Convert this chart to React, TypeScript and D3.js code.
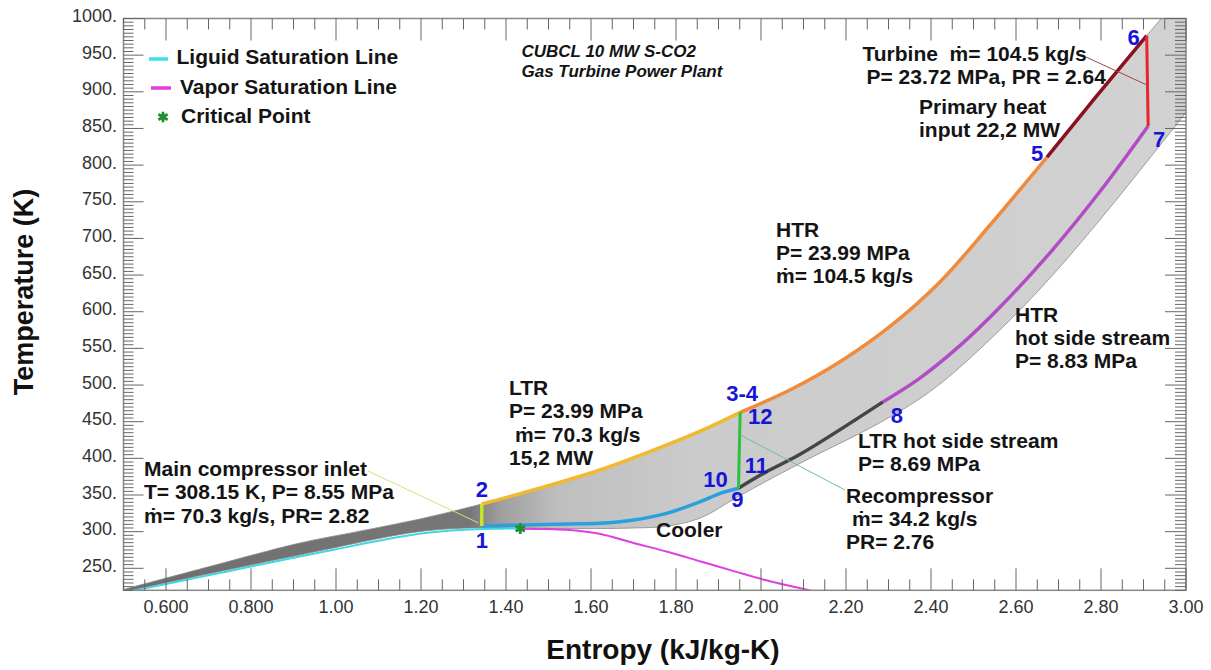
import React from "react";
import * as d3 from "d3";

type Pt = [number, number]; // [entropy kJ/kg-K, temperature K]

// axis ticks
const xTickValues = [0.6, 0.8, 1.0, 1.2, 1.4, 1.6, 1.8, 2.0, 2.2, 2.4, 2.6, 2.8, 3.0];
const xTickLabels = ["0.600", "0.800", "1.00", "1.20", "1.40", "1.60", "1.80", "2.00", "2.20", "2.40", "2.60", "2.80", "3.00"];
const yTickValues = [250, 300, 350, 400, 450, 500, 550, 600, 650, 700, 750, 800, 850, 900, 950, 1000];
const yTickLabels = yTickValues.map((v) => `${v}.`);

// saturation dome
const liquidSat: Pt[] = [
  [0.5, 216.6], [0.6, 228.5], [0.7, 240.5], [0.8, 252.5], [0.9, 264.5], [1.0, 276],
  [1.1, 287.5], [1.2, 297.5], [1.3, 302.6], [1.38, 304.0], [1.4336, 304.13],
];
const vaporSat: Pt[] = [
  [1.4336, 304.13], [1.5, 303.5], [1.55, 302.3], [1.62, 297], [1.7, 284.5], [1.78, 272.5],
  [1.86, 259], [1.94, 245.5], [2.01, 234], [2.11, 220.4], [2.2, 208],
];
const criticalPoint: Pt = [1.4336, 304.13];

// envelope of the isobar fan (grey lines)
const highIsobarLiquid: Pt[] = [
  [0.48, 218], [0.522, 224.5], [0.7, 252], [0.915, 284.5], [1.05, 300], [1.198, 317.3], [1.343, 337.7],
];
const highIsobarAbove: Pt[] = [[2.96, 1013], [3.0, 1045]];
const lowIsobar: Pt[] = [
  [0.5, 217.7], [0.915, 268.2], [1.198, 300.2], [1.343, 305.3], [1.433, 304.6], [1.574, 304.2],
  [1.699, 305], [1.778, 307.5], [1.857, 318.6], [1.946, 347.7], [2.092, 393.3], [2.287, 451],
  [2.409, 496], [2.562, 575], [2.68, 646], [2.797, 725], [2.892, 793], [3.0, 872], [3.104, 950],
];

// cycle processes
const mainCompressor: Pt[] = [[1.343, 307.7], [1.343, 337.7]];
const ltrCold: Pt[] = [[1.343, 337.7], [1.464, 356.8], [1.621, 384.1], [1.778, 418.2], [1.857, 437], [1.951, 462.8]];
const htrCold: Pt[] = [[1.951, 462.8], [2.068, 493.2], [2.185, 531.4], [2.302, 579.2], [2.421, 640.6], [2.539, 718.3], [2.673, 811]];
const heater: Pt[] = [[2.673, 811], [2.788, 893], [2.9075, 976.5]];
const turbine: Pt[] = [[2.9075, 976.5], [2.911, 853.4]];
const htrHot: Pt[] = [[2.911, 853.4], [2.798, 764.3], [2.68, 680.4], [2.562, 606.1], [2.468, 553.7], [2.374, 509.5], [2.287, 477]];
const ltrHot: Pt[] = [[2.287, 477], [2.092, 405.5], [2.013, 381.8], [1.947, 359.2]];
const cooler: Pt[] = [[1.947, 359.2], [1.904, 352.3], [1.857, 340.9], [1.778, 325], [1.7, 315.9], [1.621, 311.4], [1.543, 310.5], [1.343, 307.7]];
const recompressor: Pt[] = [[1.947, 359.2], [1.951, 462.8]];

const stateLabels = ["1", "2", "3-4", "5", "6", "7", "8", "9", "10", "11", "12"];
const statePoints: Pt[] = [
  [1.343, 307.7], [1.343, 337.7], [1.951, 462.8], [2.673, 811], [2.9075, 976.5], [2.911, 853.4],
  [2.287, 477], [1.947, 359.2], [1.947, 359.2], [1.947, 359.2], [1.951, 462.8],
];
// label offsets in px (layout only)
const stateOffsets: Pt[] = [
  [0, 22], [0, -7], [2, -11], [-10, 4], [-13, 9], [11, 21], [14, 21], [-1, 19], [-23, -1], [18, -15], [20, 12],
];

const FONT = "'Liberation Sans', Arial, sans-serif";
const BLUE = "#1515d6";

const textBlocks: { x: number; y: number; lines: string[]; dx?: number[] }[] = [
  { x: 144, y: 476, lines: ["Main compressor inlet", "T= 308.15 K, P= 8.55 MPa", "ṁ= 70.3 kg/s, PR= 2.82"] },
  { x: 509, y: 395, lines: ["LTR", "P= 23.99 MPa", "ṁ= 70.3 kg/s", "15,2 MW"], dx: [0, 0, 6, 0] },
  { x: 776, y: 236.5, lines: ["HTR", "P= 23.99 MPa", "ṁ= 104.5 kg/s"] },
  { x: 1015, y: 321.5, lines: ["HTR", "hot side stream", "P= 8.83 MPa"] },
  { x: 858, y: 447.5, lines: ["LTR hot side stream", "P= 8.69 MPa"] },
  { x: 846, y: 502.5, lines: ["Recompressor", "ṁ= 34.2 kg/s", "PR= 2.76"], dx: [0, 6, 0] },
  { x: 656, y: 536.5, lines: ["Cooler"] },
  { x: 862.5, y: 60.5, lines: ["Turbine\u00a0 ṁ= 104.5 kg/s", "P= 23.72 MPa, PR = 2.64"], dx: [0, 4] },
  { x: 919, y: 114, lines: ["Primary heat", "input 22,2 MW"] },
];

export default function App() {
  const left = 123.5, right = 1186, top = 18.5, bottom = 590.3;
  const x = d3.scaleLinear().domain([0.5, 3.0]).range([left, right]);
  const y = d3.scaleLinear().domain([220, 1000]).range([bottom, top]);

  const smooth = d3.line<Pt>().x((d) => x(d[0])).y((d) => y(d[1])).curve(d3.curveCatmullRom.alpha(0.5));
  const straight = d3.line<Pt>().x((d) => x(d[0])).y((d) => y(d[1]));

  const highEnv = [...highIsobarLiquid, ...ltrCold.slice(1), ...htrCold.slice(1), ...heater.slice(1), ...highIsobarAbove];
  const fanPath = smooth(highEnv)! + smooth([...lowIsobar].reverse())!.replace(/^M/, "L") + "Z";

  const minorX = d3.range(0.5, 3.0001, 0.05).filter((v) => Math.abs(v * 5 - Math.round(v * 5)) > 1e-6);
  const minorY = d3.range(220, 1000.1, 5).filter((v) => v % 50 !== 0);
  const asterisk = d3.symbol().type(d3.symbolAsterisk).size(80)()!;

  const processes: { d: Pt[]; color: string; w: number; curve: boolean }[] = [
    { d: cooler, color: "#2aa0de", w: 3.5, curve: true },
    { d: ltrHot, color: "#454545", w: 3.5, curve: true },
    { d: htrHot, color: "#b24cc4", w: 3.5, curve: true },
    { d: ltrCold, color: "#f2b830", w: 3.5, curve: true },
    { d: htrCold, color: "#f08a3c", w: 3.5, curve: true },
    { d: heater, color: "#8b1020", w: 3.5, curve: true },
    { d: turbine, color: "#e8242c", w: 3, curve: false },
    { d: recompressor, color: "#30c040", w: 3, curve: false },
    { d: mainCompressor, color: "#c6e627", w: 3.5, curve: false },
  ];

  return (
    <svg width={1211} height={670} style={{ position: "fixed", left: 0, top: 0, background: "#fff" }} fontFamily={FONT}>
      <defs>
        <clipPath id="plot">
          <rect x={left} y={top} width={right - left} height={bottom - top} />
        </clipPath>
        <linearGradient id="fanFill" gradientUnits="userSpaceOnUse" x1={left} x2={right} y1={0} y2={0}>
          <stop offset="0" stopColor="#6e6e6e" />
          <stop offset="0.326" stopColor="#777" />
          <stop offset="0.354" stopColor="#9e9e9e" />
          <stop offset="0.41" stopColor="#bfbfbf" />
          <stop offset="0.54" stopColor="#cbcbcb" />
          <stop offset="1" stopColor="#d2d2d2" />
        </linearGradient>
      </defs>

      <g clipPath="url(#plot)">
        <path d={fanPath} fill="url(#fanFill)" stroke="#8a8a8a" strokeWidth={0.8} />
        <path d={smooth(liquidSat)!} fill="none" stroke="#3ed8e4" strokeWidth={2} />
        <path d={smooth(vaporSat)!} fill="none" stroke="#df3fdf" strokeWidth={2} />
        {processes.map((p, i) => (
          <path key={i} d={(p.curve ? smooth : straight)(p.d)!} fill="none" stroke={p.color} strokeWidth={p.w} />
        ))}
        <path d={asterisk} transform={`translate(${x(criticalPoint[0])},${y(criticalPoint[1])})`} fill="none" stroke="#1f8f2f" strokeWidth={2.8} />
      </g>

      {/* leader lines */}
      <line x1={368} y1={471} x2={x(1.335)} y2={y(312)} stroke="#d6e07c" strokeWidth={1} />
      <line x1={x(1.951)} y1={y(432)} x2={845} y2={490} stroke="#6cc38a" strokeWidth={1} />
      <line x1={1086} y1={57} x2={x(2.909)} y2={y(909)} stroke="#a04848" strokeWidth={1} />

      {/* frame and ticks */}
      <rect x={left} y={top} width={right - left} height={bottom - top} fill="none" stroke="#888" strokeWidth={1.5} />
      <g stroke="#666" strokeWidth={1}>
        {xTickValues.map((v) => (
          <g key={`xm${v}`}>
            <line x1={x(v)} x2={x(v)} y1={bottom} y2={bottom - 22} />
            <line x1={x(v)} x2={x(v)} y1={top} y2={top + 22} />
          </g>
        ))}
        {minorX.map((v) => (
          <g key={`xn${v}`}>
            <line x1={x(v)} x2={x(v)} y1={bottom} y2={bottom - 11} />
            <line x1={x(v)} x2={x(v)} y1={top} y2={top + 11} />
          </g>
        ))}
        {yTickValues.map((v) => (
          <g key={`ym${v}`}>
            <line x1={left} x2={left + 20} y1={y(v)} y2={y(v)} />
            <line x1={right} x2={right - 21} y1={y(v)} y2={y(v)} />
          </g>
        ))}
        {minorY.map((v) => (
          <g key={`yn${v}`}>
            <line x1={left} x2={left + 10} y1={y(v)} y2={y(v)} />
            <line x1={right} x2={right - 11} y1={y(v)} y2={y(v)} />
          </g>
        ))}
      </g>

      <g fill="#333" fontSize={18}>
        {xTickValues.map((v, i) => (
          <text key={v} x={x(v)} y={613} textAnchor="middle">{xTickLabels[i]}</text>
        ))}
        {yTickValues.map((v, i) => (
          <text key={v} x={117} y={y(v) + 3.5} textAnchor="end">{yTickLabels[i]}</text>
        ))}
      </g>

      <text x={663} y={659} textAnchor="middle" fontSize={28} fontWeight="bold" fill="#111">Entropy (kJ/kg-K)</text>
      <text transform="translate(33,292) rotate(-90)" textAnchor="middle" fontSize={27} fontWeight="bold" fill="#111">Temperature (K)</text>

      {/* legend */}
      <line x1={149} x2={168} y1={59} y2={59} stroke="#3ee0e8" strokeWidth={3.5} />
      <line x1={151} x2={171} y1={88} y2={88} stroke="#e03ce0" strokeWidth={3.5} />
      <path d={asterisk} transform="translate(163,117)" fill="none" stroke="#1f8f2f" strokeWidth={2.8} />
      <g fontSize={21} fontWeight="bold" fill="#141414">
        <text x={176.5} y={64}>Liguid Saturation Line</text>
        <text x={180} y={94}>Vapor Saturation Line</text>
        <text x={181} y={123}>Critical Point</text>
      </g>

      {/* title */}
      <g fontSize={17} fontWeight="bold" fontStyle="italic" fill="#141414">
        <text x={521.5} y={57}>CUBCL 10 MW S-CO2</text>
        <text x={521.5} y={76.5}>Gas Turbine Power Plant</text>
      </g>

      {/* annotations */}
      <g fontSize={21} fontWeight="bold" fill="#141414">
        {textBlocks.map((b, i) => (
          <text key={i} x={b.x} y={b.y}>
            {b.lines.map((l, j) => (
              <tspan key={j} x={b.x + (b.dx ? b.dx[j] : 0)} y={b.y + j * 23.4}>{l}</tspan>
            ))}
          </text>
        ))}
      </g>

      {/* state point numbers */}
      <g fontSize={22} fontWeight="bold" fill={BLUE} textAnchor="middle">
        {stateLabels.map((l, i) => (
          <text key={l} x={x(statePoints[i][0]) + stateOffsets[i][0]} y={y(statePoints[i][1]) + stateOffsets[i][1]}>{l}</text>
        ))}
      </g>
    </svg>
  );
}
